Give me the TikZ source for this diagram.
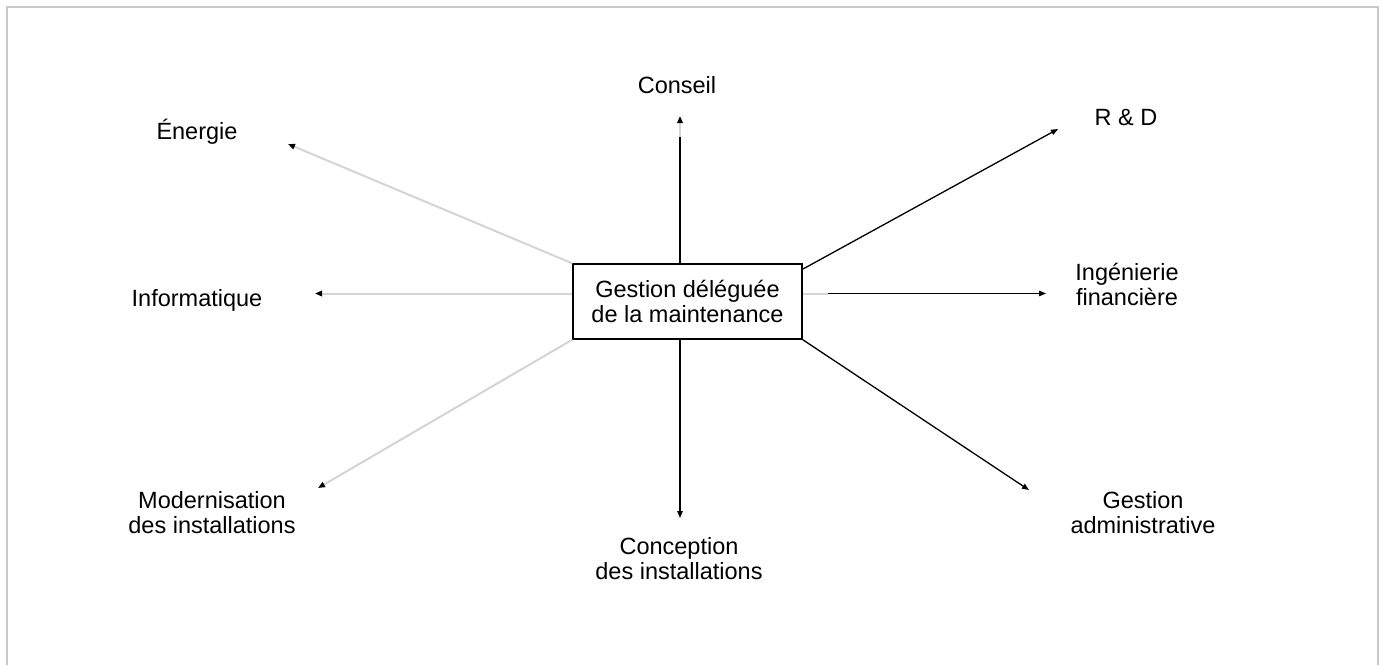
\documentclass[tikz,border=0pt]{standalone}
\usepackage{fontspec}
\setmainfont{Liberation Sans}
\usetikzlibrary{arrows.meta}
\definecolor{framegrey}{RGB}{200,200,200}
\definecolor{lightline}{RGB}{212,212,212}
\tikzset{
  lbl/.style={font=\fontsize{23.5}{25}\selectfont, align=center, inner sep=0pt, anchor=base},
  centrebox/.style={draw, line width=1.2pt, minimum width=229pt, minimum height=75pt, inner sep=0pt,
    font=\fontsize{23.5}{25}\selectfont, align=center},
  tip/.style={-{Triangle[length=7pt,width=5.5pt,color=black]}},
  darkarrow/.style={tip, line width=1.3pt, black},
  lightarrow/.style={tip, line width=2pt, lightline},
  darkseg/.style={line width=1.3pt, black},
  lightseg/.style={line width=2pt, lightline},
}
\begin{document}
\begin{tikzpicture}[x=1pt,y=-1pt]
\useasboundingbox (0,0) rectangle (1383,665);
% frame
\draw[framegrey, line width=2pt] (7,665) -- (7,7) -- (1378,7) -- (1378,665);

% central box
\node[centrebox] (box) at (687.5,301.5) {Gestion déléguée\\de la maintenance};

% labels (anchor = baseline of the last line)
\node[lbl] (energie) at (197,139) {Énergie};
\node[lbl] (conseil) at (677,93) {Conseil};
\node[lbl] (rd) at (1126,125) {R \& D};
\node[lbl] (info) at (197,306) {Informatique};
\node[lbl] (ingf) at (1127,305) {Ingénierie\\financière};
\node[lbl] (modern) at (212,533) {Modernisation\\des installations};
\node[lbl] (concep) at (679,579) {Conception\\des installations};
\node[lbl] (gadmin) at (1143,533) {Gestion\\administrative};

% arrow tips (free ends)
\coordinate (tE) at (288,144);
\coordinate (tC) at (680,116);
\coordinate (tR) at (1058,129);
\coordinate (tInfo) at (315,293.5);
\coordinate (tIng) at (1046,293.5);
\coordinate (tM) at (318,488);
\coordinate (tCo) at (680,518);
\coordinate (tG) at (1029,490);
\coordinate (cMid) at (680,137);
\coordinate (iMid) at (828,293.5);
\coordinate (rStart) at (803,269);

% connectors
\draw[lightarrow] (box.north west) -- (tE);
\draw[lightarrow] (box.north -| tC) -- (tC);
\draw[darkseg] (box.north -| cMid) -- (cMid);
\draw[darkarrow] (rStart) -- (tR);
\draw[lightarrow] (box.west |- tInfo) -- (tInfo);
\draw[lightseg] (box.east |- iMid) -- (iMid);
\draw[darkarrow] (iMid) -- (tIng);
\draw[lightarrow] (box.south west) -- (tM);
\draw[darkarrow] (box.south -| tCo) -- (tCo);
\draw[darkarrow] (box.south east) -- (tG);
\end{tikzpicture}
\end{document}
